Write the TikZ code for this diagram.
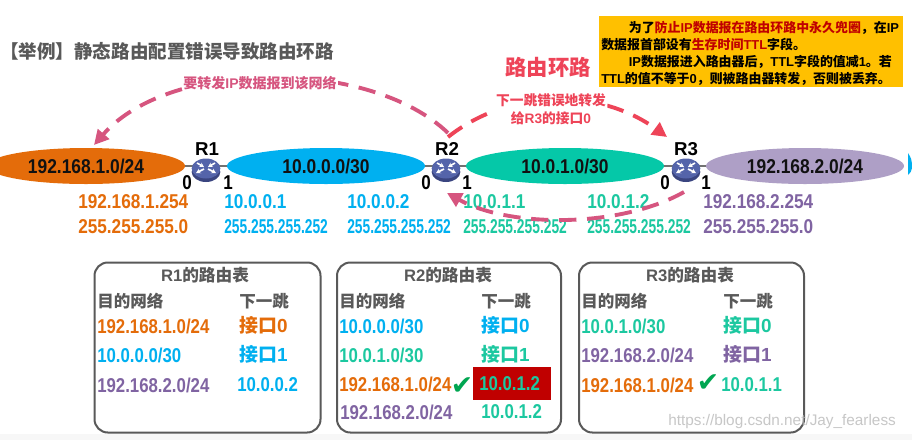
\documentclass[tikz,border=0pt]{standalone}
\usepackage{fontspec}
\usepackage{graphicx}
\usetikzlibrary{arrows.meta,shapes.geometric}
\setmainfont{Liberation Sans}
\newfontfamily\cjk{Noto Sans CJK SC}
\newfontfamily\symf{DejaVu Sans}
\newcommand{\zh}[1]{{\cjk\bfseries #1}}
\newcommand{\sx}[2]{\scalebox{#1}[1]{#2}}
\definecolor{cOrange}{HTML}{E46C0A}
\definecolor{cBlue}{HTML}{00B0F0}
\definecolor{cTealE}{HTML}{05C8A8}
\definecolor{cTeal}{HTML}{1CC8A0}
\definecolor{cPurpE}{HTML}{AE9FC6}
\definecolor{cPurp}{HTML}{8064A2}
\definecolor{cGray}{HTML}{595959}
\definecolor{cPink}{HTML}{D6557F}
\definecolor{cRed}{HTML}{EE4458}
\definecolor{cBlack}{HTML}{111111}
\definecolor{cRouter}{HTML}{5464AA}
\definecolor{cRouterD}{HTML}{3A4580}
\definecolor{cYellow}{HTML}{FFC000}
\definecolor{cDark}{HTML}{C00000}
\definecolor{cCheck}{HTML}{00A651}
\tikzset{
  x=0.75pt,y=-0.75pt,
  net/.style={ellipse,minimum width=148.5pt,minimum height=27pt,inner sep=0,font=\fontsize{15}{15}\bfseries,text=cBlack},
  rbody/.style={ellipse,minimum width=21.5pt,minimum height=15pt,inner sep=0,fill=#1},
  rname/.style={font=\fontsize{14}{14}\bfseries,inner sep=0,text=black},
  port/.style={font=\fontsize{15}{15}\bfseries,inner sep=0,text=black},
  addr/.style={anchor=west,inner sep=0,font=\fontsize{15}{15}\bfseries,text=#1},
  tbox/.style={draw=cGray,line width=1.5pt,rounded corners=10pt,fill=white},
  ttl/.style={inner sep=0,font=\fontsize{12.5}{12.5}\bfseries,text=cGray},
  hd/.style={anchor=west,inner sep=0,font=\fontsize{12.4}{12.4}\bfseries,text=cGray},
  rowt/.style={anchor=west,inner sep=0,font=\fontsize{15}{15}\bfseries,text=#1},
  rowz/.style={anchor=west,inner sep=0,font=\fontsize{14.2}{14.2}\bfseries,text=#1},
  chk/.style={inner sep=0,font=\fontsize{20}{20}\symf,text=#1},
  wire/.style={draw=cGray!85,line width=2.2pt},
  dashp/.style={line width=2.9pt,draw=cPink,dash pattern=on 13pt off 8pt,-{Triangle[length=11pt,width=11pt,fill=cPink]}},
  dashr/.style={line width=2.9pt,draw=cRed,dash pattern=on 13pt off 8pt,-{Triangle[length=11pt,width=11pt,fill=cRed]}},
  halo/.style={fill=white,inner sep=1pt,rounded corners=2pt},
}
\newcommand{\rarrows}[1]{%
  \begin{scope}[shift={(#1)},line width=1.2pt,white,-{Stealth[length=3.4pt,width=3.8pt]}]
    \draw (-9,-5) -- (-2,-1);
    \draw (9,-5) -- (2,-1);
    \draw (-2,1) -- (-10,5);
    \draw (2,1) -- (10,5);
  \end{scope}%
}
\begin{document}
\begin{tikzpicture}
\useasboundingbox (0,0) rectangle (912,440);
\fill[white] (0,0) rectangle (912,440);
\fill[black!3] (0,434) rectangle (912,440);

% title
\node[anchor=west,inner sep=0,font=\fontsize{13.9}{13.9}\cjk\bfseries,text=cGray] (title) at (0,51) {【举例】静态路由配置错误导致路由环路};

% yellow note
\node[anchor=north west,minimum width=228pt,minimum height=53.2pt,fill=cYellow,inner sep=0] (note) at (599,16) {};
\node[anchor=north west,inner sep=0,align=left,text=black,font=\fontsize{9.7}{12.7}\bfseries] (notetext) at (601,21) {%
\hspace*{20.7pt}\zh{为了}\textcolor{cDark}{\zh{防止}IP\zh{数据报在路由环路中永久兜圈}}\zh{，在}IP\\
\zh{数据报首部设有}\textcolor{cDark}{\zh{生存时间}TTL}\zh{字段。}\\
\hspace*{20.7pt}IP\zh{数据报进入路由器后，}TTL\zh{字段的值减}1\zh{。若}\\
TTL\zh{的值不等于}0\zh{，则被路由器转发，否则被丢弃。}};

% wires
\coordinate (w1a) at (180,166); \coordinate (w1b) at (232,166);
\coordinate (w2a) at (420,166); \coordinate (w2b) at (472,166);
\coordinate (w3a) at (659,166); \coordinate (w3b) at (711,166);
\draw[wire] (w1a) -- (w1b);
\draw[wire] (w2a) -- (w2b);
\draw[wire] (w3a) -- (w3b);

% networks
\node[net,fill=cOrange] (n1) at (86,166) {\sx{.87}{192.168.1.0/24}};
\node[net,fill=cBlue] (n2) at (326,166) {\sx{.87}{10.0.0.0/30}};
\node[net,fill=cTealE] (n3) at (565,166) {\sx{.87}{10.0.1.0/30}};
\node[net,fill=cPurpE] (n4) at (805,166) {\sx{.87}{192.168.2.0/24}};
\fill[cBlue] (908,153) .. controls (911,158) and (912,160) .. (912,164) -- (912,168) .. controls (912,171) and (910,173) .. (908,175) -- cycle;

% routers
\foreach \nm/\cx in {r1/206,r2/446,r3/686}{
  \node[rbody=cRouterD] (\nm b) at (\cx,172) {};
  \node[rbody=cRouter] (\nm) at (\cx,168.5) {};
  \rarrows{\cx,168}
}
\node[rname] (l1) at (207,149) {R1};
\node[rname] (l2) at (447,149) {R2};
\node[rname] (l3) at (686,149) {R3};

% port numbers
\node[port] (p10) at (187,183) {\sx{.85}{0}};
\node[port] (p11) at (228,183) {\sx{.85}{1}};
\node[port] (p20) at (426,183) {\sx{.85}{0}};
\node[port] (p21) at (467,183) {\sx{.85}{1}};
\node[port] (p30) at (665,183) {\sx{.85}{0}};
\node[port] (p31) at (706,183) {\sx{.85}{1}};

% address labels
\node[addr=cOrange] (a1) at (78,202) {\sx{.86}{192.168.1.254}};
\node[addr=cOrange] (a2) at (78,227) {\sx{.86}{255.255.255.0}};
\node[addr=cBlue] (a3) at (224,202) {\sx{.86}{10.0.0.1}};
\node[addr=cBlue] (a4) at (224,227) {\sx{.69}{255.255.255.252}};
\node[addr=cBlue] (a5) at (347,202) {\sx{.86}{10.0.0.2}};
\node[addr=cBlue] (a6) at (347,227) {\sx{.69}{255.255.255.252}};
\node[addr=cTeal] (a7) at (463,202) {\sx{.86}{10.0.1.1}};
\node[addr=cTeal] (a8) at (463,227) {\sx{.69}{255.255.255.252}};
\node[addr=cTeal] (a9) at (587,202) {\sx{.86}{10.0.1.2}};
\node[addr=cTeal] (a10) at (587,227) {\sx{.69}{255.255.255.252}};
\node[addr=cPurp] (a11) at (703,202) {\sx{.86}{192.168.2.254}};
\node[addr=cPurp] (a12) at (703,227) {\sx{.86}{255.255.255.0}};

% loop arrows
\coordinate (s1) at (448,133); \coordinate (e1) at (94,145);
\coordinate (s2) at (448,137); \coordinate (e2) at (667,137);
\coordinate (s3) at (684,192); \coordinate (e3) at (447,193);
\draw[dashp] (s1) .. controls (370,58) and (170,58) .. (e1);
\draw[dashr] (s2) .. controls (510,88) and (600,88) .. (e2);
\draw[dashp] (s3) .. controls (620,228) and (510,228) .. (e3);

% arrow labels
\node[halo,font=\fontsize{10.5}{10.5}\bfseries,text=cPink] (lb1) at (260,83) {\zh{要转发}IP\zh{数据报到该网络}};
\node[halo,align=center,font=\fontsize{10.3}{13.5}\bfseries,text=cRed] (lb2) at (551,109) {\zh{下一跳错误地转发}\\\zh{给}R3\zh{的接口}0};
\node[inner sep=0,font=\fontsize{16}{16}\cjk\bfseries,text=cRed] (lb3) at (548,67) {路由环路};

% tables
\node[tbox,anchor=north west,minimum width=169.5pt,minimum height=127.5pt] (t1) at (93.5,261.5) {};
\node[tbox,anchor=north west,minimum width=168pt,minimum height=127.5pt] (t2) at (336,261.5) {};
\node[tbox,anchor=north west,minimum width=168.75pt,minimum height=127.5pt] (t3) at (578,261.5) {};

% R1
\node[ttl] (t1t) at (205,275) {R1\zh{的路由表}};
\node[hd] (t1a) at (97,301) {\zh{目的网络}};
\node[hd] (t1b) at (239,301) {\zh{下一跳}};
\node[rowt=cOrange] (t1c) at (97,326) {\sx{.84}{192.168.1.0/24}};
\node[rowz=cOrange] (t1d) at (239,325) {\zh{接口}0};
\node[rowt=cBlue] (t1e) at (97,355) {\sx{.84}{10.0.0.0/30}};
\node[rowz=cBlue] (t1f) at (239,354) {\zh{接口}1};
\node[rowt=cPurp] (t1g) at (97,385) {\sx{.84}{192.168.2.0/24}};
\node[rowt=cBlue] (t1h) at (237,385) {\sx{.84}{10.0.0.2}};

% R2
\node[ttl] (t2t) at (448,275) {R2\zh{的路由表}};
\node[hd] (t2a) at (339,301) {\zh{目的网络}};
\node[hd] (t2b) at (481,301) {\zh{下一跳}};
\node[rowt=cBlue] (t2c) at (339,326) {\sx{.84}{10.0.0.0/30}};
\node[rowz=cBlue] (t2d) at (481,325) {\zh{接口}0};
\node[rowt=cTeal] (t2e) at (339,355) {\sx{.84}{10.0.1.0/30}};
\node[rowz=cTeal] (t2f) at (481,354) {\zh{接口}1};
\node[rowt=cOrange] (t2g) at (339,384) {\sx{.84}{192.168.1.0/24}};
\node[chk=cCheck] (t2k) at (462,386) {✔};
\node[anchor=north west,minimum width=58.5pt,minimum height=24.75pt,inner sep=0,fill=cDark] (t2r) at (473,367) {};
\node[rowt=cTeal] (t2h) at (479,384) {\sx{.84}{10.0.1.2}};
\node[rowt=cPurp] (t2i) at (340,412) {\sx{.84}{192.168.2.0/24}};
\node[rowt=cTeal] (t2j) at (481,412) {\sx{.84}{10.0.1.2}};

% R3
\node[ttl] (t3t) at (690,275) {R3\zh{的路由表}};
\node[hd] (t3a) at (581,301) {\zh{目的网络}};
\node[hd] (t3b) at (723,301) {\zh{下一跳}};
\node[rowt=cTeal] (t3c) at (581,326) {\sx{.84}{10.0.1.0/30}};
\node[rowz=cTeal] (t3d) at (723,325) {\zh{接口}0};
\node[rowt=cPurp] (t3e) at (581,355) {\sx{.84}{192.168.2.0/24}};
\node[rowz=cPurp] (t3f) at (723,354) {\zh{接口}1};
\node[rowt=cOrange] (t3g) at (581,385) {\sx{.84}{192.168.1.0/24}};
\node[chk=cCheck] (t3k) at (708,383) {✔};
\node[rowt=cTeal] (t3h) at (721,385) {\sx{.84}{10.0.1.1}};

% watermark
\node[anchor=west,inner sep=0,font=\fontsize{11.5}{11.5}\selectfont,text=gray!55,opacity=.8] (wm) at (668,422) {https://blog.csdn.net/Jay\_fearless};
\end{tikzpicture}
\end{document}
